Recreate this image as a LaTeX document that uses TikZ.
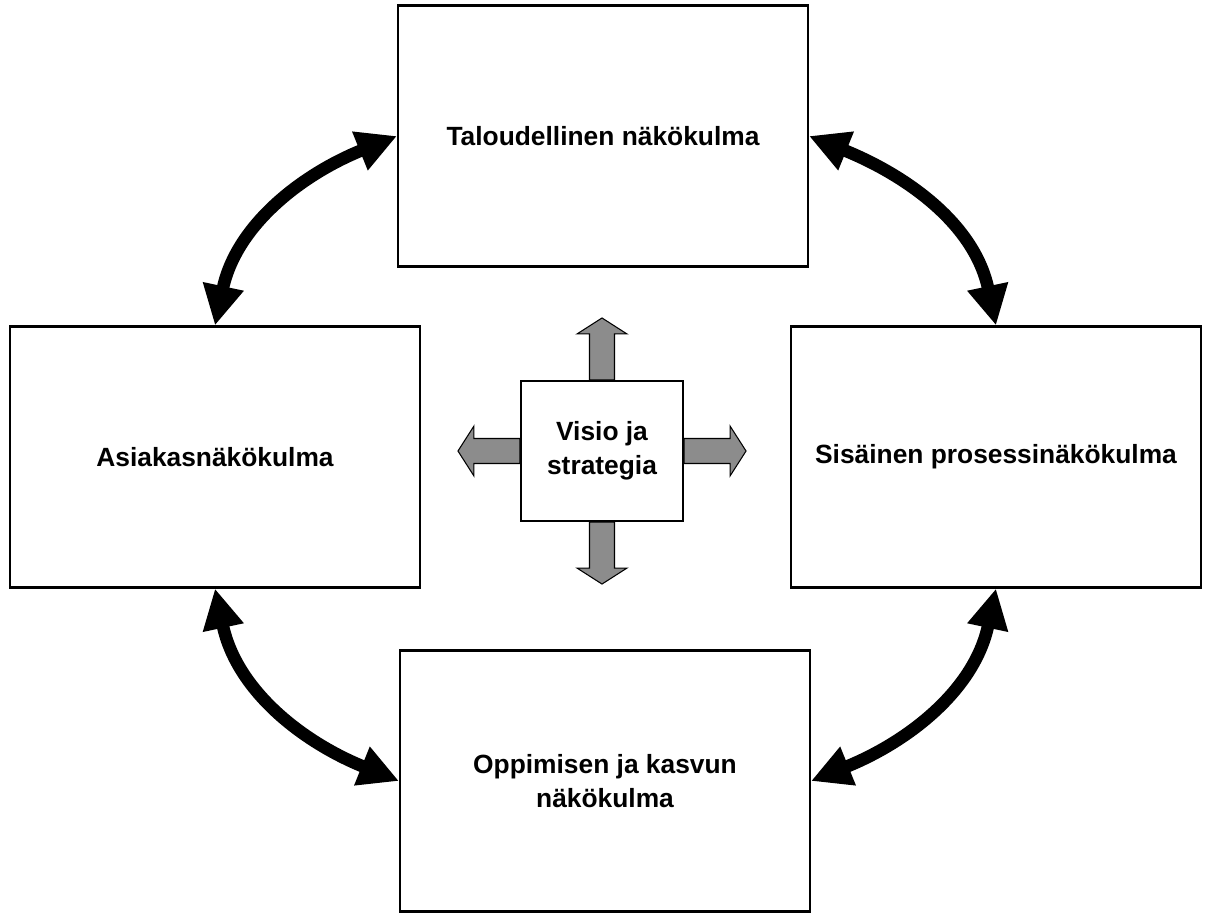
\documentclass[tikz,border=0pt]{standalone}
\usepackage{fontspec}
\setmainfont{Liberation Sans}
\usetikzlibrary{arrows.meta, positioning}
\definecolor{arrowgray}{RGB}{140,140,140}

\tikzset{
  view/.style={draw, line width=1.2pt, minimum width=8.2cm, minimum height=5.22cm,
    font=\fontsize{15}{19.3}\selectfont\bfseries, align=center},
  link/.style={line width=0.25cm, {Triangle[length=0.8cm,width=0.78cm]}-{Triangle[length=0.8cm,width=0.78cm]}},
  grayarrow/.pic={
    \draw[fill=arrowgray, line width=0.6pt] (0,-12.5) -- (46,-12.5) -- (46,-25) -- (62,0)
      -- (46,25) -- (46,12.5) -- (0,12.5) -- cycle;
  }
}

\begin{document}
\begin{tikzpicture}[x=0.02cm, y=-0.02cm]
            \useasboundingbox (0,0) rectangle (1210,913);

            % the four perspectives
            \node[view] (talous) at (603,136) {Taloudellinen näkökulma};
            \node[view] (asiakas) at (215,457) {Asiakasnäkökulma};
            \node[view] (prosessi) at (996,457) {Sisäinen prosessinäkökulma};
            \node[view] (oppiminen) at (605,781) {Oppimisen ja kasvun\\näkökulma};

            % vision in the middle
            \node[view, minimum width=3.24cm, minimum height=2.8cm] (visio) at (602,451) {Visio ja\\strategia};
            \pic[rotate=90] at (visio.north) {grayarrow};
            \pic[rotate=270] at (visio.south) {grayarrow};
            \pic[rotate=180] at (visio.west) {grayarrow};
            \pic at (visio.east) {grayarrow};

            \draw[link] (asiakas.north) to[out=78, in=202] (talous.west);
            \draw[link] (prosessi.north) to[out=102, in=-22] (talous.east);
            \draw[link] (asiakas.south) to[out=-78, in=158] (oppiminen.west);
            \draw[link] (prosessi.south) to[out=258, in=22] (oppiminen.east);
        \end{tikzpicture}
\end{document}
